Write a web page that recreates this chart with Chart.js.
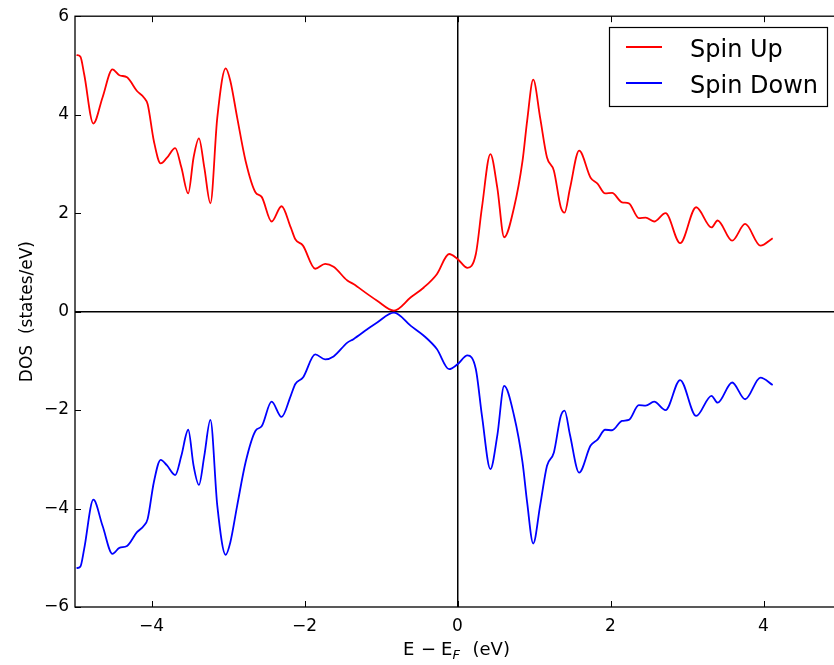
<!DOCTYPE html>
<html>
<head>
<meta charset="utf-8">
<script src="https://cdn.jsdelivr.net/npm/chart.js@4"></script>
<style>
  html, body { margin: 0; padding: 0; background: #fff; overflow: hidden; }
  #wrap { position: absolute; left: 0; top: 0; width: 850px; height: 665px; }
</style>
</head>
<body>
<div id="wrap"><canvas id="dosChart" width="850" height="665"></canvas></div>
<script>
// energia relativa al nivel de Fermi (eV)
const ENERGY = [-4.98, -4.93, -4.88, -4.76, -4.64, -4.51, -4.42, -4.32, -4.19, -4.10,
    -4.05, -3.97, -3.88, -3.80, -3.69, -3.61, -3.52, -3.45, -3.38, -3.31,
    -3.23, -3.14, -3.03, -2.97, -2.88, -2.77, -2.64, -2.56, -2.43, -2.30,
    -2.18, -2.12, -2.02, -1.86, -1.73, -1.62, -1.44, -1.36, -1.18, -1.05,
    -0.83, -0.61, -0.44, -0.27, -0.11, 0.00, 0.13, 0.24, 0.32, 0.43,
    0.52, 0.61, 0.74, 0.85, 0.91, 0.99, 1.08, 1.17, 1.26, 1.35,
    1.40, 1.47, 1.59, 1.74, 1.83, 1.93, 2.02, 2.15, 2.24, 2.37,
    2.46, 2.57, 2.72, 2.91, 3.12, 3.32, 3.40, 3.59, 3.76, 3.96, 4.12];

const SPIN_UP = [5.21, 5.18, 4.82, 3.82, 4.35, 4.92, 4.80, 4.76, 4.48, 4.35,
    4.21, 3.47, 3.01, 3.12, 3.32, 2.93, 2.40, 3.13, 3.52, 2.93,
    2.20, 3.94, 4.94, 4.69, 3.94, 3.06, 2.42, 2.33, 1.83, 2.14,
    1.71, 1.47, 1.34, 0.87, 0.97, 0.91, 0.63, 0.56, 0.36, 0.22,
    0.02, 0.29, 0.49, 0.76, 1.17, 1.07, 0.89, 1.17, 2.12, 3.20,
    2.52, 1.51, 2.12, 3.06, 3.87, 4.71, 3.94, 3.13, 2.86, 2.12,
    2.01, 2.50, 3.27, 2.72, 2.60, 2.40, 2.41, 2.22, 2.20, 1.90,
    1.91, 1.83, 2.00, 1.39, 2.12, 1.71, 1.85, 1.44, 1.78, 1.34, 1.49];

const SPIN_DOWN = [-5.21, -5.18, -4.82, -3.82, -4.35, -4.92, -4.80, -4.76, -4.48, -4.35,
    -4.21, -3.47, -3.01, -3.12, -3.32, -2.93, -2.40, -3.13, -3.52, -2.93,
    -2.20, -3.94, -4.94, -4.69, -3.94, -3.06, -2.42, -2.33, -1.83, -2.14,
    -1.71, -1.47, -1.34, -0.87, -0.97, -0.91, -0.63, -0.56, -0.36, -0.22,
    -0.02, -0.29, -0.49, -0.76, -1.17, -1.07, -0.89, -1.17, -2.12, -3.20,
    -2.52, -1.51, -2.12, -3.06, -3.87, -4.71, -3.94, -3.13, -2.86, -2.12,
    -2.01, -2.50, -3.27, -2.72, -2.60, -2.40, -2.41, -2.22, -2.20, -1.90,
    -1.91, -1.83, -2.00, -1.39, -2.12, -1.71, -1.85, -1.44, -1.78, -1.34, -1.49];

const X_TICKS = [-4, -2, 0, 2, 4];
const Y_TICKS = [-6, -4, -2, 0, 2, 4, 6];
const SERIES_LABELS = ['Spin Up', 'Spin Down'];
const Y_TITLE = 'DOS  (states/eV)';

const FONT = 'DejaVu Sans';
const fmt = v => (v < 0 ? '\u2212' + Math.abs(v) : String(v));

const colors = {
    up: '#ff0000',
    down: '#0000ff',
    axis: '#000000',
};

// piezas del titulo x: texto, desplazamiento desde el centro, fuente, bajada
const X_TITLE_PARTS = [
    ['E', -54.5, '18px', 0],
    ['\u2212', -36.5, '18px', 0],
    ['E', -16.5, '18px', 0],
    ['F', -5, 'italic 13px', 4],
    ['(eV)', 15, '18px', 0],
];

// marco, ticks hacia dentro, leyenda y titulo del eje x
const framePlugin = {
    id: 'frame',
    afterDraw(chart) {
        const { ctx, chartArea: a, scales } = chart;
        ctx.save();
        ctx.strokeStyle = colors.axis;
        ctx.lineWidth = 1;
        ctx.beginPath();
        X_TICKS.forEach(v => {
            const px = Math.round(scales.x.getPixelForValue(v)) + 0.5;
            ctx.moveTo(px, a.bottom); ctx.lineTo(px, a.bottom - 6);
            ctx.moveTo(px, a.top); ctx.lineTo(px, a.top + 6);
        });
        Y_TICKS.forEach(v => {
            const py = Math.round(scales.y.getPixelForValue(v)) + 0.5;
            ctx.moveTo(a.left, py); ctx.lineTo(a.left + 6, py);
            ctx.moveTo(a.right, py); ctx.lineTo(a.right - 6, py);
        });
        ctx.stroke();

        ctx.lineWidth = 1.3;
        ctx.strokeRect(a.left, a.top, a.right - a.left, a.bottom - a.top);

        // leyenda
        const lx = 609.5, ly = 27.5, lw = 218, lh = 79;
        ctx.fillStyle = '#fff';
        ctx.fillRect(lx, ly, lw, lh);
        ctx.lineWidth = 1.2;
        ctx.strokeStyle = colors.axis;
        ctx.strokeRect(lx, ly, lw, lh);
        ctx.font = '24px "' + FONT + '"';
        ctx.textBaseline = 'alphabetic';
        ctx.textAlign = 'left';
        chart.data.datasets.forEach((ds, i) => {
            const yy = 47 + i * 36;
            ctx.strokeStyle = ds.borderColor;
            ctx.lineWidth = 1.8;
            ctx.beginPath();
            ctx.moveTo(626, yy); ctx.lineTo(662, yy);
            ctx.stroke();
            ctx.fillStyle = '#000';
            ctx.fillText(ds.label, 690, yy + 10);
        });

        // titulo eje x con subindice
        const cx = (a.left + a.right) / 2;
        const base = 655;
        ctx.fillStyle = '#000';
        X_TITLE_PARTS.forEach(([txt, dx, f, drop]) => {
            ctx.font = f + ' "' + FONT + '"';
            ctx.fillText(txt, cx + dx, base + drop);
        });
        ctx.restore();
    },
};

const zeroLine = c => (c.tick && c.tick.value === 0 ? colors.axis : 'rgba(0,0,0,0)');

const ctx = document.getElementById('dosChart').getContext('2d');
new Chart(ctx, {
    type: 'line',
    data: {
        datasets: [
            {
                label: SERIES_LABELS[0],
                data: ENERGY.map((e, i) => ({ x: e, y: SPIN_UP[i] })),
                borderColor: colors.up,
                borderWidth: 1.8,
                pointRadius: 0,
                fill: false,
                cubicInterpolationMode: 'monotone',
            },
            {
                label: SERIES_LABELS[1],
                data: ENERGY.map((e, i) => ({ x: e, y: SPIN_DOWN[i] })),
                borderColor: colors.down,
                borderWidth: 1.8,
                pointRadius: 0,
                fill: false,
                cubicInterpolationMode: 'monotone',
            },
        ],
    },
    options: {
        responsive: false,
        animation: false,
        events: [],
        layout: { padding: { top: 15, right: 10, left: 0, bottom: 0 } },
        plugins: {
            legend: { display: false },
            tooltip: { enabled: false },
        },
        scales: {
            x: {
                type: 'linear',
                min: -5,
                max: 5,
                afterBuildTicks: s => { s.ticks = X_TICKS.map(v => ({ value: v })); },
                afterFit: s => { s.height = 58; },
                grid: { color: zeroLine, lineWidth: 1.5, drawTicks: false },
                border: { display: false },
                ticks: {
                    padding: 9,
                    color: '#000',
                    font: { family: FONT, size: 17 },
                    maxRotation: 0,
                    callback: fmt,
                },
            },
            y: {
                type: 'linear',
                min: -6,
                max: 6,
                afterBuildTicks: s => { s.ticks = Y_TICKS.map(v => ({ value: v })); },
                afterFit: s => { s.width = 75; },
                grid: { color: zeroLine, lineWidth: 1.5, drawTicks: false },
                border: { display: false },
                ticks: {
                    padding: 6,
                    color: '#000',
                    font: { family: FONT, size: 17 },
                    callback: fmt,
                },
                title: {
                    display: true,
                    text: Y_TITLE,
                    color: '#000',
                    font: { family: FONT, size: 17 },
                    padding: { top: 17, bottom: 0 },
                },
            },
        },
    },
    plugins: [framePlugin],
});
</script>
</body>
</html>
